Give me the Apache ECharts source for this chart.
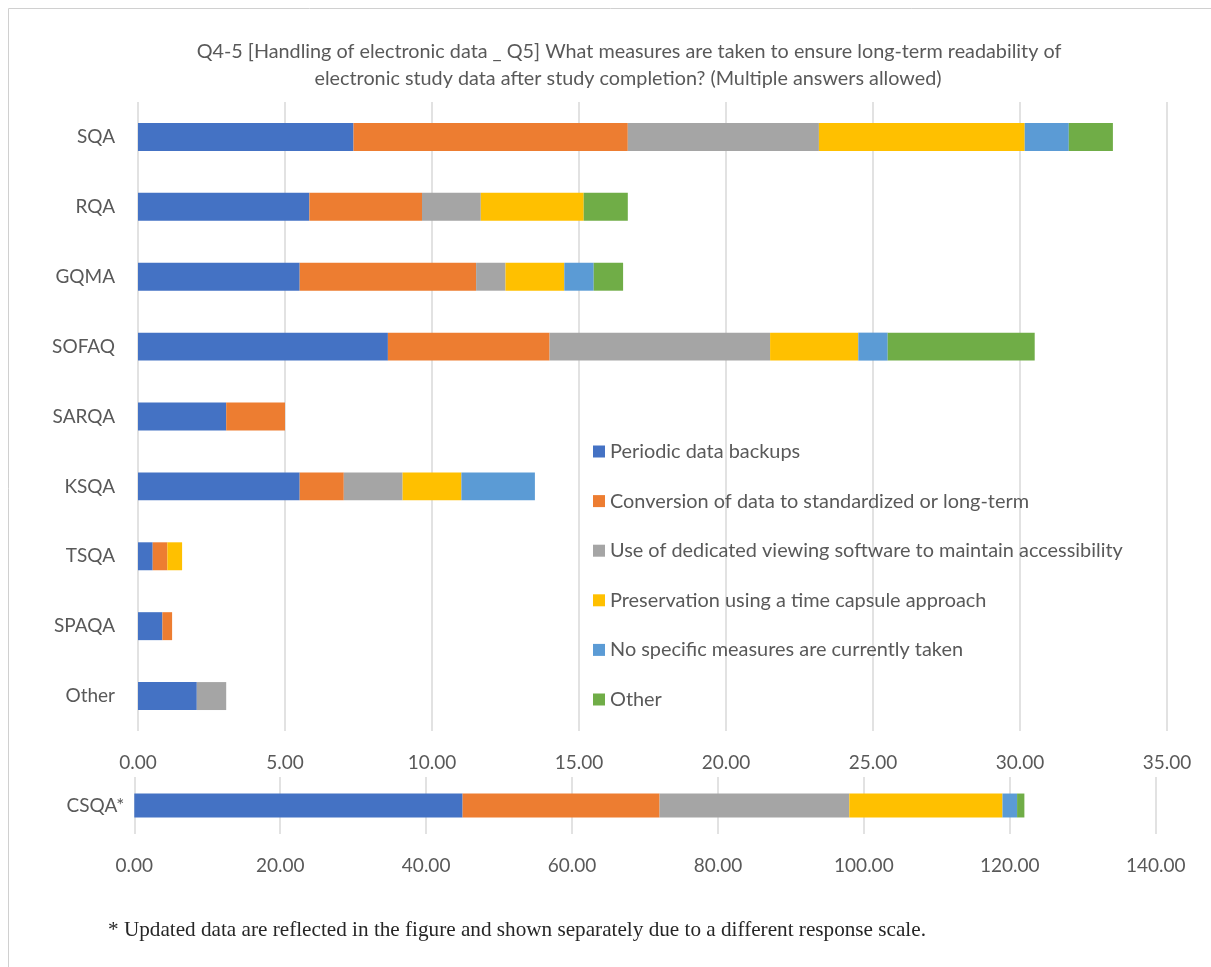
<!DOCTYPE html>
<html>
<head>
<meta charset="utf-8">
<script src="https://cdn.jsdelivr.net/npm/echarts@6/dist/echarts.min.js"></script>
<style>
  html, body { margin: 0; padding: 0; background: #ffffff; }
  #chart { width: 1211px; height: 967px; }
</style>
</head>
<body>
<div id="chart"></div>
<script>
// Organisations (upper panel, % scale 0–35)
const categories = ['SQA', 'RQA', 'GQMA', 'SOFAQ', 'SARQA', 'KSQA', 'TSQA', 'SPAQA', 'Other'];

// Answer options
const seriesNames = [
  'Periodic data backups',
  'Conversion of data to standardized or long-term',
  'Use of dedicated viewing software to maintain accessibility',
  'Preservation using a time capsule approach',
  'No specific measures are currently taken',
  'Other'
];

// Values per answer option, one entry per organisation
const periodicBackups = [7.33, 5.83, 5.5, 8.5, 3.0, 5.5, 0.5, 0.83, 2.0];
const conversion      = [9.33, 3.83, 6.0, 5.5, 2.0, 1.5, 0.5, 0.33, 0];
const viewingSoftware = [6.5, 2.0, 1.0, 7.5, 0, 2.0, 0, 0, 1.0];
const timeCapsule     = [7.0, 3.5, 2.0, 3.0, 0, 2.0, 0.5, 0, 0];
const noMeasures      = [1.5, 0, 1.0, 1.0, 0, 2.5, 0, 0, 0];
const otherMeasures   = [1.5, 1.5, 1.0, 5.0, 0, 0, 0, 0, 0];

// Lower panel (different response scale)
const csqaCategories = ['CSQA*'];
const csqaValues = [45, 27, 26, 21, 2, 1];

// Axis ticks
const topTicks = { min: 0, max: 35, interval: 5 };
const bottomTicks = { min: 0, max: 140, interval: 20 };

const colors = ['#4472C4', '#ED7D31', '#A5A5A5', '#FFC000', '#5B9BD5', '#70AD47'];
const topData = [periodicBackups, conversion, viewingSoftware, timeCapsule, noMeasures, otherMeasures];

const textColor = '#595959';
const font = 'Lato';

const series = [];
seriesNames.forEach((name, i) => {
  series.push({
    name: name,
    type: 'bar',
    stack: 'top',
    xAxisIndex: 0,
    yAxisIndex: 0,
    barWidth: '40%',
    itemStyle: { color: colors[i] },
    emphasis: { disabled: true },
    data: topData[i]
  });
});
seriesNames.forEach((name, i) => {
  series.push({
    name: name,
    type: 'bar',
    stack: 'bottom',
    xAxisIndex: 1,
    yAxisIndex: 1,
    barWidth: '42%',
    itemStyle: { color: colors[i] },
    emphasis: { disabled: true },
    data: [csqaValues[i]]
  });
});

const chart = echarts.init(document.getElementById('chart'), null, { renderer: 'canvas' });

chart.setOption({
  animation: false,
  color: colors,
  textStyle: { fontFamily: font },
  graphic: [
    {
      type: 'rect',
      silent: true,
      shape: { x: 8.5, y: 8.5, width: 1300, height: 1100 },
      style: { fill: 'none', stroke: '#d0d0d0', lineWidth: 1 }
    },
    {
      type: 'text',
      silent: true,
      x: 629,
      y: 52,
      style: {
        text: 'Q4-5 [Handling of electronic data _ Q5] What measures are taken to ensure long-term readability of',
        fill: textColor,
        font: '19.8px Lato',
        textAlign: 'center',
        textVerticalAlign: 'middle'
      }
    },
    {
      type: 'text',
      silent: true,
      x: 628,
      y: 79,
      style: {
        text: 'electronic study data after study completion? (Multiple answers allowed)',
        fill: textColor,
        font: '19.8px Lato',
        textAlign: 'center',
        textVerticalAlign: 'middle'
      }
    },
    {
      type: 'text',
      silent: true,
      x: 108,
      y: 930,
      style: {
        text: '* Updated data are reflected in the figure and shown separately due to a different response scale.',
        fill: '#262626',
        font: '21.2px "Liberation Serif"',
        textAlign: 'left',
        textVerticalAlign: 'middle'
      }
    }
  ],
  legend: {
    data: seriesNames,
    orient: 'vertical',
    left: 593,
    top: 441.5,
    padding: 0,
    itemWidth: 12,
    itemHeight: 12,
    itemGap: 29.6,
    icon: 'rect',
    selectedMode: false,
    textStyle: { color: textColor, fontSize: 19.9, fontFamily: font, lineHeight: 20 }
  },
  grid: [
    { left: 138, top: 102, width: 1029, height: 629, containLabel: false },
    { left: 134.3, top: 777, width: 1021.4, height: 57, containLabel: false }
  ],
  xAxis: [
    {
      gridIndex: 0,
      type: 'value',
      min: topTicks.min,
      max: topTicks.max,
      interval: topTicks.interval,
      axisLine: { show: false },
      axisTick: { show: false },
      splitLine: { show: true, lineStyle: { color: '#d9d9d9', width: 1.5 } },
      axisLabel: {
        color: textColor,
        fontSize: 19,
        fontFamily: font,
        margin: 22,
        formatter: v => v.toFixed(2)
      }
    },
    {
      gridIndex: 1,
      type: 'value',
      min: bottomTicks.min,
      max: bottomTicks.max,
      interval: bottomTicks.interval,
      axisLine: { show: false },
      axisTick: { show: false },
      splitLine: { show: true, lineStyle: { color: '#d9d9d9', width: 1.5 } },
      axisLabel: {
        color: textColor,
        fontSize: 19,
        fontFamily: font,
        margin: 22,
        formatter: v => v.toFixed(2)
      }
    }
  ],
  yAxis: [
    {
      gridIndex: 0,
      type: 'category',
      data: categories,
      inverse: true,
      axisLine: { show: false },
      axisTick: { show: false },
      axisLabel: { color: textColor, fontSize: 19, fontFamily: font, margin: 23 }
    },
    {
      gridIndex: 1,
      type: 'category',
      data: csqaCategories,
      axisLine: { show: false },
      axisTick: { show: false },
      axisLabel: { color: textColor, fontSize: 19, fontFamily: font, margin: 10 }
    }
  ],
  series: series
});
</script>
</body>
</html>
